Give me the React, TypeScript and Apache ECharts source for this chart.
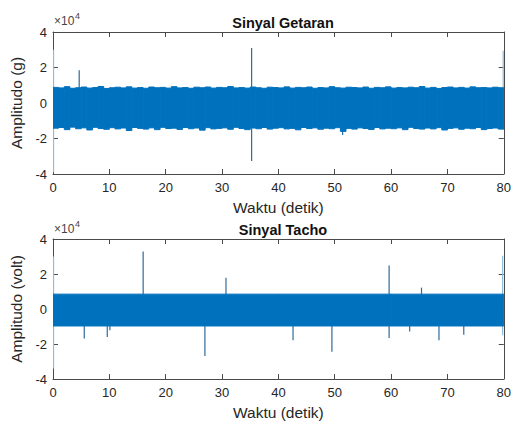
import React, { useEffect, useRef } from "react";
import * as echarts from "echarts";

// Values in units of x10^4
const xTicks = [0, 10, 20, 30, 40, 50, 60, 70, 80];
const yTicks = [-4, -2, 0, 2, 4];

// Sinyal Getaran: envelope per 1-second bin (upper / lower), x10^4
const getarUpper = [0.88,0.85,0.92,0.83,0.86,0.9,0.84,0.87,0.93,0.82,0.86,0.89,0.85,0.91,0.84,0.87,0.83,0.9,0.86,0.88,0.84,0.92,0.85,0.87,0.83,0.89,0.86,0.9,0.84,0.88,0.86,0.93,0.85,0.87,0.84,0.9,0.86,0.83,0.89,0.87,0.85,0.91,0.84,0.88,0.86,0.9,0.83,0.87,0.85,0.92,0.86,0.84,0.89,0.87,0.85,0.9,0.83,0.88,0.86,0.91,0.84,0.87,0.85,0.89,0.86,0.93,0.84,0.88,0.82,0.87,0.9,0.85,0.88,0.84,0.91,0.86,0.87,0.85,0.89,0.86];
const getarLower = [-1.42,-1.38,-1.5,-1.36,-1.45,-1.4,-1.52,-1.37,-1.44,-1.48,-1.39,-1.46,-1.41,-1.55,-1.38,-1.43,-1.47,-1.4,-1.5,-1.37,-1.44,-1.42,-1.49,-1.38,-1.45,-1.41,-1.53,-1.39,-1.46,-1.43,-1.4,-1.48,-1.37,-1.44,-1.5,-1.41,-1.45,-1.38,-1.47,-1.42,-1.39,-1.46,-1.43,-1.51,-1.38,-1.44,-1.4,-1.48,-1.42,-1.45,-1.39,-1.6,-1.43,-1.47,-1.4,-1.44,-1.49,-1.38,-1.46,-1.42,-1.45,-1.4,-1.5,-1.37,-1.44,-1.47,-1.41,-1.46,-1.39,-1.52,-1.43,-1.4,-1.48,-1.42,-1.45,-1.38,-1.5,-1.44,-1.41,-1.47];
// Sinyal Getaran spikes
const getarSpikeTimes = [4.65, 35.25, 51.4];
const getarSpikeHigh = [1.85, 3.1, 0];
const getarSpikeLow = [0, -3.27, -1.8];
const getarEdgeTimes = [0.1, 79.9];
const getarEdgeHigh = [3.0, 2.95];
const getarEdgeLow = [-3.9, -1.5];

// Sinyal Tacho: band segments (start, end, lower, upper), x10^4
const tachoSegStart = [0, 20, 40, 60];
const tachoSegEnd = [20, 40, 60, 80];
const tachoUpper = [0.85, 0.85, 0.85, 0.85];
const tachoLower = [-0.97, -0.97, -0.97, -0.97];
// Sinyal Tacho spikes
const tachoSpikeTimes = [5.55, 9.63, 10.1, 16.0, 26.96, 30.7, 42.6, 49.5, 59.65, 63.3, 65.4, 68.5, 72.9];
const tachoSpikeHigh = [0, 0, 0, 3.28, 0, 1.79, 0, 0, 2.48, 0, 1.22, 0, 0];
const tachoSpikeLow = [-1.69, -1.6, -1.22, 0, -2.69, 0, -1.79, -2.44, -1.65, -1.28, 0, -1.79, -1.47];
const tachoEdgeTimes = [0.1, 79.8];
const tachoEdgeHigh = [3.0, 3.04];
const tachoEdgeLow = [-3.4, -1.5];

const FONT = "'Liberation Sans', Arial, Helvetica, sans-serif";
const BLUE = "#0072BD";
const SPIKE = "#2f6c9c";
const EDGE = "#8dbcdc";
const AXIS = "#4a4a4a";
const TEXT = "#262626";

const GRID_LEFT = 53;
const GRID_W = 451;
const GRID_H = 142;
const TOPS = [32, 239];

function bandRender(color: string) {
  return (params: any, api: any) => {
    const t0 = api.value(0), t1 = api.value(1), lo = api.value(2), hi = api.value(3);
    const p0 = api.coord([t0, hi]);
    const p1 = api.coord([t1, lo]);
    return {
      type: "rect",
      shape: { x: p0[0], y: p0[1], width: p1[0] - p0[0], height: p1[1] - p0[1] },
      style: { fill: color, stroke: color, lineWidth: 1 },
    };
  };
}

function spikeRender(color: string) {
  return (params: any, api: any) => {
    const t = api.value(0), lo = api.value(1), hi = api.value(2);
    const a = api.coord([t, hi]);
    const b = api.coord([t, lo]);
    return {
      type: "line",
      shape: { x1: a[0], y1: a[1], x2: b[0], y2: b[1] },
      style: { stroke: color, lineWidth: 1.2 },
    };
  };
}

export default function App() {
  const ref = useRef<HTMLDivElement>(null);
  useEffect(() => {
    if (!ref.current) return;
    const chart = echarts.init(ref.current, null, { renderer: "svg" });

    const grids = TOPS.map((t) => ({ left: GRID_LEFT, top: t, width: GRID_W, height: GRID_H }));

    const xAxes: any[] = [];
    const yAxes: any[] = [];
    [0, 1].forEach((g) => {
      xAxes.push({
        type: "value", gridIndex: g, min: xTicks[0], max: xTicks[xTicks.length - 1], interval: 10,
        position: "bottom",
        name: "Waktu (detik)", nameLocation: "middle", nameGap: 25,
        nameTextStyle: { fontFamily: FONT, fontSize: 15.5, color: TEXT },
        axisLine: { show: true, onZero: false, lineStyle: { color: AXIS, width: 1 } },
        axisTick: { show: true, inside: true, length: 5, lineStyle: { color: AXIS } },
        axisLabel: { show: true, fontFamily: FONT, fontSize: 13, color: TEXT, margin: 7 },
        splitLine: { show: false },
      });
      xAxes.push({
        type: "value", gridIndex: g, min: 0, max: 80, interval: 10, position: "top",
        axisLine: { show: true, onZero: false, lineStyle: { color: AXIS, width: 1 } },
        axisTick: { show: true, inside: true, length: 5, lineStyle: { color: AXIS } },
        axisLabel: { show: false },
        splitLine: { show: false },
      });
      yAxes.push({
        type: "value", gridIndex: g, min: yTicks[0], max: yTicks[yTicks.length - 1], interval: 2,
        position: "left",
        name: g === 0 ? "Amplitudo (g)" : "Amplitudo (volt)", nameLocation: "middle", nameGap: 21,
        nameTextStyle: { fontFamily: FONT, fontSize: 15.5, color: TEXT },
        axisLine: { show: true, onZero: false, lineStyle: { color: AXIS, width: 1 } },
        axisTick: { show: true, inside: true, length: 5, lineStyle: { color: AXIS } },
        axisLabel: { show: true, fontFamily: FONT, fontSize: 13, color: TEXT, margin: 6 },
        splitLine: { show: false },
      });
      yAxes.push({
        type: "value", gridIndex: g, min: -4, max: 4, interval: 2, position: "right",
        axisLine: { show: true, onZero: false, lineStyle: { color: AXIS, width: 1 } },
        axisTick: { show: true, inside: true, length: 5, lineStyle: { color: AXIS } },
        axisLabel: { show: false },
        splitLine: { show: false },
      });
    });

    const getarBand = getarUpper.map((u, i) => [i, i + 1, getarLower[i], u]);
    const tachoBand = tachoUpper.map((u, i) => [tachoSegStart[i], tachoSegEnd[i], tachoLower[i], u]);
    const gSpikes = getarSpikeTimes.map((t, i) => [t, getarSpikeLow[i], getarSpikeHigh[i]]);
    const tSpikes = tachoSpikeTimes.map((t, i) => [t, tachoSpikeLow[i], tachoSpikeHigh[i]]);
    const gEdges = getarEdgeTimes.map((t, i) => [t, getarEdgeLow[i], getarEdgeHigh[i]]);
    const tEdges = tachoEdgeTimes.map((t, i) => [t, tachoEdgeLow[i], tachoEdgeHigh[i]]);

    const mk = (name: string, g: number, data: any[], render: any, z: number, enc: any) => ({
      type: "custom", name, xAxisIndex: g * 2, yAxisIndex: g * 2, data, renderItem: render,
      clip: true, z, encode: enc, silent: true,
    });

    const bandEnc = { x: [0, 1], y: [2, 3] };
    const spikeEnc = { x: 0, y: [1, 2] };

    const supText = (y: number) => ({
      type: "group", left: 54, top: y,
      children: [
        { type: "text", x: 0, y: 4, style: { text: "×10", font: `12px ${FONT}`, fill: "#444" } },
        { type: "text", x: 21, y: 0, style: { text: "4", font: `9px ${FONT}`, fill: "#444" } },
      ],
    });

    chart.setOption({
      animation: false,
      backgroundColor: "#ffffff",
      title: [
        { text: "Sinyal Getaran", left: 278, top: 10, textAlign: "center",
          textStyle: { fontFamily: FONT, fontSize: 14.5, fontWeight: "bold", color: "#111" } },
        { text: "Sinyal Tacho", left: 278, top: 217, textAlign: "center",
          textStyle: { fontFamily: FONT, fontSize: 14.5, fontWeight: "bold", color: "#111" } },
      ],
      grid: grids,
      xAxis: xAxes,
      yAxis: yAxes,
      graphic: [supText(11), supText(219)],
      series: [
        mk("getarSpikes", 0, gSpikes, spikeRender(SPIKE), 2, spikeEnc),
        mk("getarEdges", 0, gEdges, spikeRender(EDGE), 2, spikeEnc),
        mk("getarBand", 0, getarBand, bandRender(BLUE), 3, bandEnc),
        mk("tachoSpikes", 1, tSpikes, spikeRender(SPIKE), 2, spikeEnc),
        mk("tachoEdges", 1, tEdges, spikeRender(EDGE), 2, spikeEnc),
        mk("tachoBand", 1, tachoBand, bandRender(BLUE), 3, bandEnc),
      ],
    });
    return () => chart.dispose();
  }, []);
  return (
    <div
      ref={ref}
      style={{ position: "fixed", left: 0, top: 0, width: 514, height: 421, background: "#fff" }}
    />
  );
}
